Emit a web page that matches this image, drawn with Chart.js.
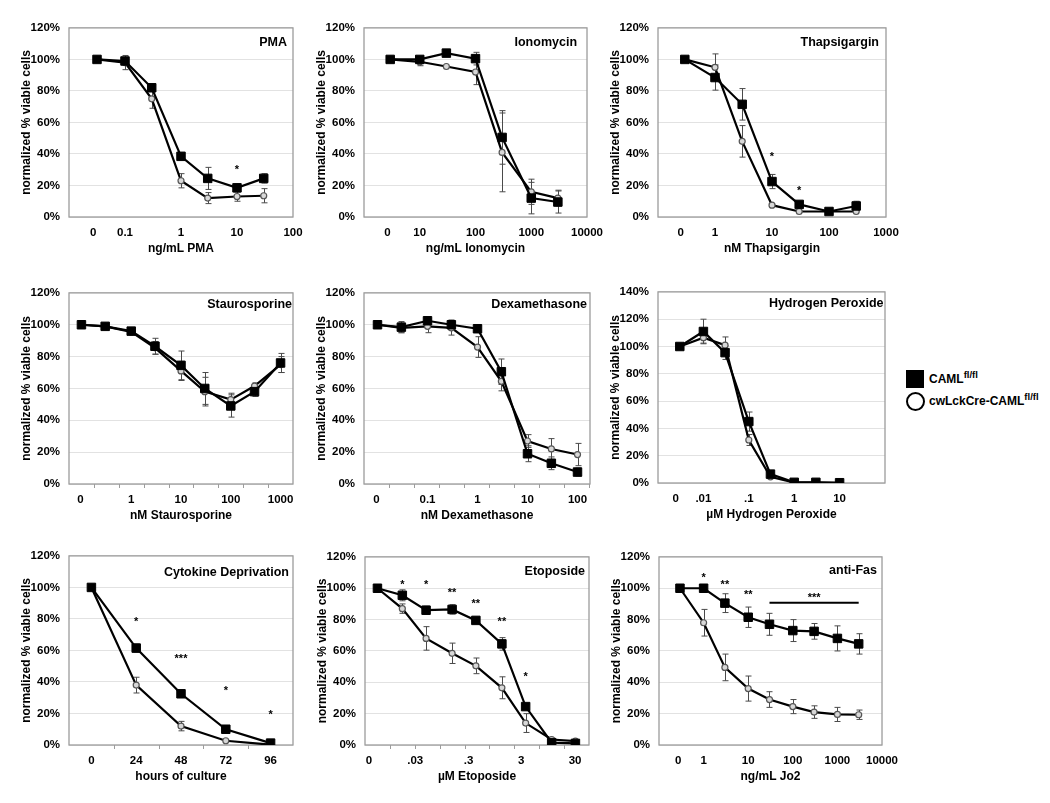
<!DOCTYPE html>
<html><head><meta charset="utf-8">
<script src="https://cdn.jsdelivr.net/npm/chart.js@4"></script>
<style>
body{margin:0;background:#fff;width:1050px;height:803px;position:relative;overflow:hidden;font-family:"Liberation Sans",Arial,sans-serif;}
canvas{position:absolute;}
.lg{position:absolute;font:bold 12px "Liberation Sans",Arial,sans-serif;line-height:18px;color:#000;white-space:nowrap;}
.lg sup{font-size:9.5px;line-height:0;vertical-align:5px;}
</style></head><body>
<div style="position:absolute;left:906px;top:370px;width:18px;height:18px;background:#000"></div>
<div class="lg" style="left:929px;top:370px">CAML<sup>fl/fl</sup></div>
<div style="position:absolute;left:906px;top:391.5px;width:15px;height:15px;border:2px solid #000;border-radius:50%"></div>
<div class="lg" style="left:929px;top:391.5px">cwLckCre-CAML<sup>fl/fl</sup></div>
<script>
// ---------------- DATA ----------------
const pmaDose = [0, 0.1, 0.3, 1, 3, 10, 30];
const pmaCAML = [100, 99, 82, 38.5, 24.5, 18.5, 24.5];
const pmaCAMLErr = [1, 2, 1.5, 2, 7, 2.5, 3];
const pmaKO = [100, 98, 75, 23, 12, 13, 13.5];
const pmaKOErr = [1, 4.5, 6, 4.5, 3.5, 3, 4.5];
const pmaTicks = ['0', '0.1', '1', '10', '100'];
const pmaStars = [[10, 32, '*']];

const ionoDose = [0, 10, 30, 100, 300, 1000, 3000];
const ionoCAML = [100, 100, 104, 100.5, 50.5, 12, 9.5];
const ionoCAMLErr = [0.5, 1.5, 1, 4, 17, 10, 7];
const ionoKO = [100, 98.5, 95.5, 92, 41, 16, 12];
const ionoKOErr = [0.5, 2.5, 1, 8, 25, 8, 5];
const ionoTicks = ['0', '10', '100', '1000', '10000'];

const thapDose = [0, 1, 3, 10, 30, 100, 300];
const thapCAML = [100, 88.5, 71.5, 22.5, 8, 3.5, 7];
const thapCAMLErr = [0.5, 8, 10, 4.5, 1.5, 1, 3];
const thapKO = [100, 95, 48, 7.5, 3.5, 3.5, 3.5];
const thapKOErr = [0.5, 8.5, 10, 1, 0.5, 0.5, 1];
const thapTicks = ['0', '1', '10', '100', '1000'];
const thapStars = [[10, 40.5, '*'], [30, 19, '*']];

const stauDose = [0, 0.3, 1, 3, 10, 30, 100, 300, 1000];
const stauCAML = [100, 99, 96, 86.5, 74.5, 60, 49, 58, 76];
const stauCAMLErr = [0.5, 0.5, 1.5, 5, 9, 10, 7, 3, 6];
const stauKO = [100, 99, 95.5, 85.5, 71, 58, 53, 61.5, 75];
const stauKOErr = [0.5, 0.5, 1.5, 4, 6, 9, 4, 2, 5];
const stauTicks = ['0', '1', '10', '100', '1000'];

const dexDose = [0, 0.03, 0.1, 0.3, 1, 3, 10, 30, 100];
const dexCAML = [100, 98.5, 102.5, 100, 97.5, 70.5, 19, 13, 7.5];
const dexCAMLErr = [0.5, 3.5, 1.5, 3, 2, 8, 5, 4, 2.5];
const dexKO = [100, 98, 99, 98, 86, 64.5, 27, 22, 18.5];
const dexKOErr = [0.5, 3, 4, 4.5, 6.5, 6, 4, 6.5, 7];
const dexTicks = ['0', '0.1', '1', '10', '100'];

const h2o2Dose = [0, 0.01, 0.03, 0.1, 0.3, 1, 3, 10];
const h2o2CAML = [100, 111, 95.5, 45, 6.5, 0.5, 0.5, 0.2];
const h2o2CAMLErr = [0.5, 9, 5, 7, 1, 0.3, 0.3, 0.2];
const h2o2KO = [100, 106.5, 101, 31.5, 4.5, 0.3, 0.3, 0.2];
const h2o2KOErr = [0.5, 4, 6, 4, 1, 0.3, 0.3, 0.2];
const h2o2Ticks = ['0', '.01', '.1', '1', '10'];

const cytoHours = [0, 24, 48, 72, 96];
const cytoCAML = [100, 61.5, 32.5, 10, 1.2];
const cytoCAMLErr = [0.3, 2.5, 1.5, 0.8, 0.5];
const cytoKO = [100, 38, 12, 2.7, 0.2];
const cytoKOErr = [0.3, 5, 3, 0.5, 0.2];
const cytoTicks = ['0', '24', '48', '72', '96'];
const cytoStars = [[24, 80.5, '*'], [48, 56.5, '***'], [72, 36.5, '*'], [96, 21, '*']];

const etoDose = [0, 0.01, 0.03, 0.1, 0.3, 1, 3, 10, 30];
const etoCAML = [100, 95.5, 86, 86.5, 79.5, 64.5, 24.5, 1.5, 1];
const etoCAMLErr = [0.3, 3.5, 2.5, 3, 1, 4, 1.5, 0.5, 0.5];
const etoKO = [100, 87, 68, 58.5, 50.5, 36.5, 14, 3.5, 2.5];
const etoKOErr = [0.3, 3, 7.5, 6.5, 5, 7, 6, 1, 0.8];
const etoTicks = ['0', '.03', '.3', '3', '30'];
const etoStars = [[0.01, 104.5, '*'], [0.03, 104.5, '*'], [0.1, 99.5, '**'], [0.3, 92, '**'], [1, 81, '**'], [3, 45.5, '*']];

const fasDose = [0, 1, 3, 10, 30, 100, 300, 1000, 3000];
const fasCAML = [100, 100, 90.5, 81.5, 77, 73, 72.5, 68, 64.5];
const fasCAMLErr = [0.5, 0.8, 6, 6.5, 7, 7, 5, 8, 6.5];
const fasKO = [100, 78, 49.5, 36, 29, 24.5, 21, 19.5, 19.3];
const fasKOErr = [0.5, 8.5, 8.5, 8, 5, 4.5, 4, 4.5, 3];
const fasTicks = ['0', '1', '10', '100', '1000', '10000'];
const fasStars = [[1, 108.5, '*'], [3, 104, '**'], [10, 98, '**']];
const fasBracket = {from: 30, to: 3000, y: 90.7, label: '***', labelY: 96};

// ---------------- LAYOUT / STYLE ----------------
const FONT = '"Liberation Sans", Arial, sans-serif';
const YTITLE = 'normalized % viable cells';
const panels = [
  {title:'PMA', xTitle:'ng/mL PMA', dose:pmaDose, caml:pmaCAML, camlErr:pmaCAMLErr, ko:pmaKO, koErr:pmaKOErr, ticks:pmaTicks, stars:pmaStars,
   box:[68.5,21.5,292.5,216.5], xMin:-2, xMax:2, zero:-1.5, zeroShift:-0.07, yMax:120, tIn:6, tDy:15},
  {title:'Ionomycin', xTitle:'ng/mL Ionomycin', dose:ionoDose, caml:ionoCAML, camlErr:ionoCAMLErr, ko:ionoKO, koErr:ionoKOErr, ticks:ionoTicks, stars:[],
   box:[363.5,21.5,589,216.5], xMin:0, xMax:4, zero:0.47, zeroShift:-0.05, yMax:120, tIn:10, tDy:15},
  {title:'Thapsigargin', xTitle:'nM Thapsigargin', dose:thapDose, caml:thapCAML, camlErr:thapCAMLErr, ko:thapKO, koErr:thapKOErr, ticks:thapTicks, stars:thapStars,
   box:[657.5,21.5,885,216.5], xMin:-1, xMax:3, zero:-0.53, zeroShift:-0.07, yMax:120, tIn:7, tDy:15},
  {title:'Staurosporine', xTitle:'nM Staurosporine', dose:stauDose, caml:stauCAML, camlErr:stauCAMLErr, ko:stauKO, koErr:stauKOErr, ticks:stauTicks, stars:[],
   box:[69,286.5,292.5,483], xMin:-1.25, xMax:3.25, zero:-1, zeroShift:-0.02, yMax:120, tIn:1, tDy:12, minor:0.5},
  {title:'Dexamethasone', xTitle:'nM Dexamethasone', dose:dexDose, caml:dexCAML, camlErr:dexCAMLErr, ko:dexKO, koErr:dexKOErr, ticks:dexTicks, stars:[],
   box:[363.5,286.5,589,483], xMin:-2.27, xMax:2.25, zero:-2, zeroShift:-0.02, yMax:120, tIn:3, tDy:12, minor:0.5},
  {title:'Hydrogen Peroxide', xTitle:'\u00b5M Hydrogen Peroxide', dose:h2o2Dose, caml:h2o2CAML, camlErr:h2o2CAMLErr, ko:h2o2KO, koErr:h2o2KOErr, ticks:h2o2Ticks, stars:[],
   box:[658,286,884.5,482.5], xMin:-3, xMax:2, zero:-2.52, zeroShift:-0.09, yMax:140, tIn:1.5, tDy:12},
  {title:'Cytokine Deprivation', xTitle:'hours of culture', dose:cytoHours, caml:cytoCAML, camlErr:cytoCAMLErr, ko:cytoKO, koErr:cytoKOErr, ticks:cytoTicks, stars:cytoStars,
   box:[69,550,292.5,744.5], xMin:-12, xMax:108, linear:true, zero:0, zeroShift:0, yMax:120, tIn:4, tDy:16.5, minor:24},
  {title:'Etoposide', xTitle:'\u00b5M Etoposide', dose:etoDose, caml:etoCAML, camlErr:etoCAMLErr, ko:etoKO, koErr:etoKOErr, ticks:etoTicks, stars:etoStars,
   box:[364.5,551,588.5,745], xMin:-2.75, xMax:1.75, zero:-2.5, tickPos:[-2.67,-1.74,-0.67,0.39,1.47], yMax:120, tIn:4, tDy:15, minor:0.5},
  {title:'anti-Fas', xTitle:'ng/mL Jo2', dose:fasDose, caml:fasCAML, camlErr:fasCAMLErr, ko:fasKO, koErr:fasKOErr, ticks:fasTicks, stars:fasStars, bracket:fasBracket,
   box:[658.5,551,884,744.5], xMin:-1, xMax:4, zero:-0.53, zeroShift:-0.04, yMax:120, tIn:5, tDy:13.5}
];

const YW = 50, XH = 39, PT = 10, PR = 22;

function xOf(p, d) { return p.linear ? d : (d === 0 ? p.zero : Math.log10(d)); }
function tickPositions(p) {
  if (p.tickPos) return p.tickPos;
  return p.ticks.map(t => p.linear ? parseFloat(t) : (t === '0' ? p.zero + p.zeroShift : Math.log10(parseFloat(t))));
}

const errorBars = {
  id: 'errorBars',
  beforeDatasetsDraw(chart) {
    const {ctx, scales: {y}} = chart;
    chart.data.datasets.forEach((ds, i) => {
      const meta = chart.getDatasetMeta(i);
      ctx.save();
      ctx.strokeStyle = '#4a4a4a';
      ctx.lineWidth = 1;
      meta.data.forEach((pt, j) => {
        const e = ds.errors[j];
        const v = ds.data[j].y;
        const yt = y.getPixelForValue(v + e), yb = y.getPixelForValue(v - e);
        if (Math.abs(yb - yt) < 4) return;
        const x = Math.round(pt.x) + 0.5;
        ctx.beginPath();
        ctx.moveTo(x, yt); ctx.lineTo(x, yb);
        ctx.moveTo(x - 3, yt); ctx.lineTo(x + 3, yt);
        ctx.moveTo(x - 3, yb); ctx.lineTo(x + 3, yb);
        ctx.stroke();
      });
      ctx.restore();
    });
  }
};

function makeDecor(p) {
  return {
    id: 'decor',
    beforeDatasetsDraw(chart) {
      const {ctx, chartArea: a, scales: {x}} = chart;
      ctx.save();
      ctx.strokeStyle = '#9c9c9c';
      ctx.lineWidth = 1.3;
      ctx.strokeRect(a.left, a.top, a.right - a.left, a.bottom - a.top);
      if (p.minor) {
        ctx.lineWidth = 1;
        ctx.beginPath();
        for (let v = p.xMin + p.minor; v < p.xMax - 1e-6; v += p.minor) {
          const px = Math.round(x.getPixelForValue(v)) + 0.5;
          ctx.moveTo(px, a.bottom); ctx.lineTo(px, a.bottom + 4);
        }
        ctx.stroke();
      }
      ctx.restore();
    },
    afterDatasetsDraw(chart) {
      const {ctx, chartArea: a, scales: {x, y}} = chart;
      ctx.save();
      ctx.fillStyle = '#000';
      ctx.font = 'bold 12.5px ' + FONT;
      ctx.textAlign = 'right';
      ctx.textBaseline = 'middle';
      ctx.fillText(p.title, a.right - p.tIn, a.top + p.tDy);
      ctx.font = 'bold 11px ' + FONT;
      ctx.textAlign = 'center';
      ctx.textBaseline = 'alphabetic';
      p.stars.forEach(s => {
        ctx.fillText(s[2], x.getPixelForValue(xOf(p, s[0])), y.getPixelForValue(s[1]) + 6.5);
      });
      if (p.bracket) {
        const b = p.bracket;
        const x1 = x.getPixelForValue(xOf(p, b.from)), x2 = x.getPixelForValue(xOf(p, b.to));
        const yy = y.getPixelForValue(b.y);
        ctx.strokeStyle = '#000';
        ctx.lineWidth = 2;
        ctx.beginPath(); ctx.moveTo(x1, yy); ctx.lineTo(x2, yy); ctx.stroke();
        ctx.fillText(b.label, (x1 + x2) / 2, y.getPixelForValue(b.labelY) + 6.5);
      }
      ctx.restore();
    }
  };
}

const tickFont = {family: FONT, size: 11.5, weight: 'bold'};
const titleFont = {family: FONT, size: 12, weight: 'bold'};

panels.forEach(p => {
  const [l, t, r, b] = p.box;
  const cv = document.createElement('canvas');
  const w = Math.round(r - l + YW + PR), h = Math.round(b - t + PT + XH);
  cv.width = w; cv.height = h;
  cv.style.left = (l - YW) + 'px';
  cv.style.top = (t - PT) + 'px';
  cv.style.width = w + 'px'; cv.style.height = h + 'px';
  document.body.appendChild(cv);
  const tp = tickPositions(p);
  new Chart(cv, {
    type: 'line',
    data: {
      datasets: [
        {label: 'CAMLfl/fl', data: p.dose.map((d, i) => ({x: xOf(p, d), y: p.caml[i]})), errors: p.camlErr,
         borderColor: '#000', borderWidth: 2.2, pointStyle: 'rect', pointRadius: 6, pointBorderWidth: 1,
         pointBackgroundColor: '#000', pointBorderColor: '#000', tension: 0},
        {label: 'cwLckCre-CAMLfl/fl', data: p.dose.map((d, i) => ({x: xOf(p, d), y: p.ko[i]})), errors: p.koErr,
         borderColor: '#000', borderWidth: 2.2, pointStyle: 'circle', pointRadius: 3, pointBorderWidth: 1.2,
         pointBackgroundColor: '#d8d8d8', pointBorderColor: '#555', tension: 0}
      ]
    },
    options: {
      responsive: false, animation: false, events: [],
      layout: {padding: {left: 0, top: PT, right: PR, bottom: 0}},
      plugins: {legend: {display: false}, tooltip: {enabled: false}},
      scales: {
        x: {
          type: 'linear', min: p.xMin, max: p.xMax,
          grid: {display: false, drawTicks: false}, border: {display: false},
          ticks: {autoSkip: false, maxRotation: 0, minRotation: 0, color: '#000', font: tickFont, padding: 9,
                  callback: (v, i) => p.ticks[i]},
          afterBuildTicks: s => { s.ticks = tp.map(v => ({value: v})); },
          title: {display: true, text: p.xTitle, color: '#000', font: titleFont, padding: 0},
          afterFit: s => { s.height = XH; }
        },
        y: {
          min: 0, max: p.yMax,
          grid: {color: '#e2e2e2', lineWidth: 1, drawTicks: false}, border: {display: false},
          ticks: {stepSize: 20, color: '#000', font: tickFont, padding: 9, callback: v => v + '%'},
          title: {display: true, text: YTITLE, color: '#000', font: titleFont, padding: 0},
          afterFit: s => { s.width = YW; }
        }
      }
    },
    plugins: [errorBars, makeDecor(p)]
  });
});
</script>
</body></html>
